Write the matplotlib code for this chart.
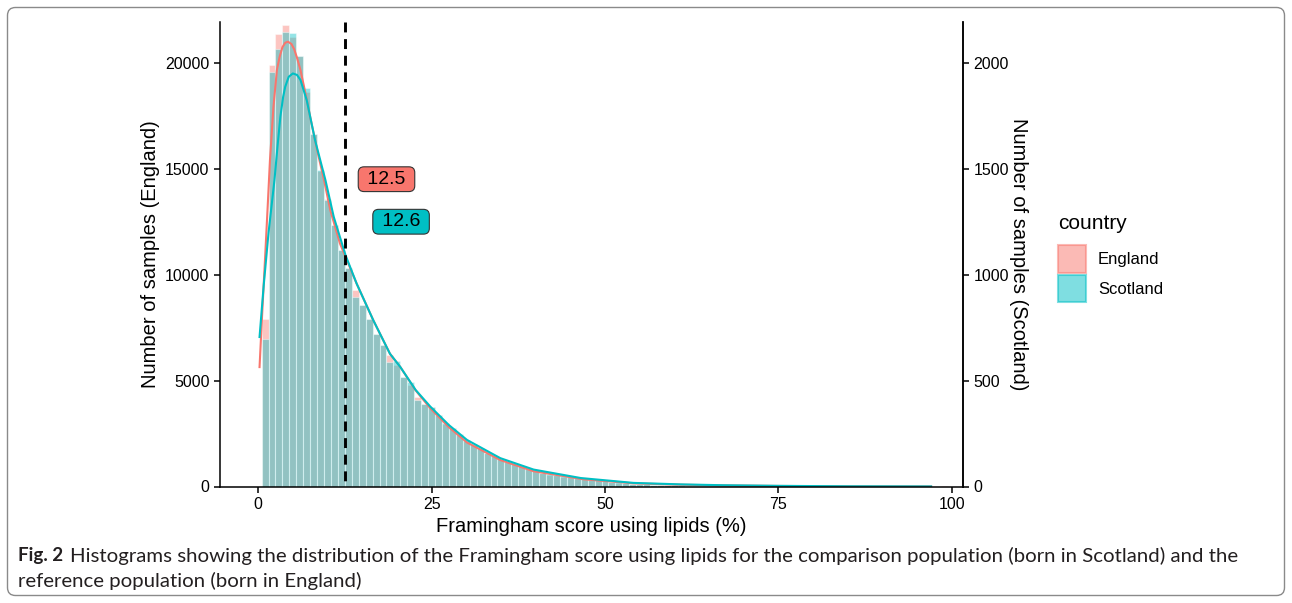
import matplotlib
matplotlib.use("Agg")
import numpy as np
import matplotlib.pyplot as plt
from matplotlib.patches import Patch, FancyBboxPatch

# histogram bins (centre, %), binwidth 1
score_bins = list(range(1, 100))

england_counts = [7930, 19905, 21370, 21800, 21240, 20340, 18640, 16640, 14910, 13600,
                  12340, 11160, 10300, 9300, 8560, 7930, 7190, 6670, 6190, 5720,
                  5170, 4800, 4250, 3880, 3750, 3360, 2960, 2750, 2450, 2170,
                  2000, 1800, 1580, 1420, 1290, 1170, 1040, 950, 840, 760,
                  650, 560, 520, 470, 430, 400, 360, 330, 290, 250,
                  210, 180, 150, 130, 110, 95, 80, 70, 60, 50,
                  45, 40, 35, 30, 26, 22, 19, 16, 14, 12,
                  10, 9, 8, 7, 6, 5, 5, 4, 4, 3,
                  3, 3, 2, 2, 2, 2, 2, 1, 1, 1,
                  1, 1, 1, 1, 1, 1, 0, 0, 1]

scotland_counts = [698, 1959, 2065, 2148, 2143, 2034, 1880, 1664, 1494, 1352,
                   1234, 1116, 1030, 895, 856, 793, 719, 667, 590, 592,
                   517, 495, 410, 388, 375, 336, 301, 275, 248, 219,
                   196, 182, 160, 143, 131, 118, 106, 96, 85, 77,
                   64, 57, 52, 48, 44, 41, 37, 34, 30, 26,
                   22, 19, 16, 14, 12, 10, 9, 8, 7, 6,
                   5, 4, 4, 3, 3, 2, 2, 2, 2, 1,
                   1, 1, 1, 1, 1, 1, 0, 1, 0, 0,
                   1, 0, 0, 0, 1, 0, 0, 0, 0, 0,
                   0, 0, 0, 0, 0, 0, 0, 0, 0]

# density curves (count scale)
eng_curve_x = [0.2, 0.6, 1.0, 1.4, 1.7, 2.2, 2.7, 3.1, 3.5, 3.9, 4.3, 4.8, 5.2, 5.6, 6.1,
               6.8, 7.5, 8.5, 9.5, 10.4, 11.8, 12.5, 14.2, 16.6, 19.0, 20.5, 22.7, 24.8,
               27.5, 30.1, 34.9, 39.7, 46.9, 54.1, 60.9, 67, 75.3, 85, 97]
eng_curve_y = [5640, 8300, 10800, 13400, 15400, 17900, 19670, 20300, 20750, 20960, 21010,
               20900, 20650, 20250, 19670, 18600, 17460, 15890, 14470, 13050, 11470, 10920,
               9580, 7850, 6270, 5640, 4540, 3700, 2800, 2080, 1250, 720, 340, 150, 85, 50,
               25, 10, 3]
sco_curve_x = [0.2, 0.8, 1.5, 2.35, 2.8, 3.2, 3.6, 3.9, 4.4, 5.0, 5.6, 6.1, 7.0, 8.2, 9.7,
               10.9, 12.6, 14.2, 16.6, 19.0, 20.5, 22.7, 24.8, 27.5, 30.1, 34.9, 39.7,
               46.5, 54.1, 60.9, 67, 75.3, 85, 97]
sco_curve_y = [706, 950, 1200, 1447, 1610, 1746, 1840, 1888, 1935, 1951, 1944, 1920, 1825,
               1636, 1447, 1273, 1092, 958, 785, 627, 564, 456, 378, 290, 220, 134, 80, 40,
               17, 10, 6, 3, 1, 0.3]

mean_england = 12.5
mean_scotland = 12.6
scale = 10  # scotland counts are drawn x10 on the left axis

red = "#F8766D"
teal = "#00BFC4"
alpha = 0.42

plt.rcParams["font.family"] = ["Liberation Sans", "DejaVu Sans"]

fig = plt.figure(figsize=(12.92, 6.03), dpi=100)
ax = fig.add_axes([220 / 1292, 1 - 486.5 / 603, 743 / 1292, 464.5 / 603])

ax.bar(score_bins, england_counts, width=1, color=red, alpha=alpha,
       edgecolor="white", linewidth=0.8)
ax.bar(score_bins, np.array(scotland_counts) * scale, width=1, color=teal, alpha=alpha,
       edgecolor="white", linewidth=0.8)
ax.plot(eng_curve_x, eng_curve_y, color=red, lw=1.5)
ax.plot(sco_curve_x, np.array(sco_curve_y) * scale, color=teal, lw=1.5)
# drawn top -> bottom so the dash pattern starts at the top
ax.axvline(mean_england, ymin=1, ymax=0, color="black", lw=2.1, dashes=(3.4, 2.3))

box = "round,pad=0.2,rounding_size=0.3"
ax.text(18.5, 14515, " %.1f " % mean_england, ha="center", va="center", fontsize=14,
        bbox=dict(boxstyle=box, fc=red, ec="#333333", lw=0.8))
ax.text(20.6, 12506, " %.1f " % mean_scotland, ha="center", va="center", fontsize=14,
        bbox=dict(boxstyle=box, fc=teal, ec="#333333", lw=0.8))

ax.set_xlim(-5.5, 101.6)
ax.set_ylim(0, 21940)
ax.set_xticks([0, 25, 50, 75, 100])
ax.set_yticks([0, 5000, 10000, 15000, 20000])
ax.spines["top"].set_visible(False)
for s in ["left", "bottom", "right"]:
    ax.spines[s].set_linewidth(1.1)
ax.tick_params(labelsize=11.5, length=4, width=1.1, colors="black")
ax.set_xlabel("Framingham score using lipids (%)", fontsize=14.5, labelpad=4)
ax.set_ylabel("Number of samples (England)", fontsize=14.5, labelpad=4)

sec = ax.secondary_yaxis("right", functions=(lambda y: y / scale, lambda y: y * scale))
sec.set_yticks([0, 500, 1000, 1500, 2000])
sec.tick_params(labelsize=11.5, length=4, width=1.1)
sec.spines["right"].set_linewidth(1.1)
sec.set_ylabel("Number of samples (Scotland)", fontsize=14.5, rotation=270, labelpad=14)

handles = [Patch(facecolor=red, alpha=0.5, edgecolor=red, lw=1.5, label="England"),
           Patch(facecolor=teal, alpha=0.5, edgecolor=teal, lw=1.5, label="Scotland")]
leg = fig.legend(handles=handles, title="country", loc="upper left",
                 bbox_to_anchor=(1043 / 1292, 1 - 199 / 603), frameon=False,
                 fontsize=12, title_fontsize=15, handlelength=1.65, handleheight=2.15,
                 handletextpad=0.75, labelspacing=0.12)
leg._legend_box.align = "left"
leg._legend_box.sep = 9
for h in leg.legend_handles:
    h.set_edgecolor(h.get_facecolor()[:3] + (1,))

# caption
cap_color = "#231f20"
fig.text(18 / 1292, 1 - 556 / 603, "Fig. 2", fontsize=13.5, fontweight="bold",
         family="Lato", va="center", color=cap_color)
fig.text(70 / 1292, 1 - 556 / 603,
         "Histograms showing the distribution of the Framingham score using lipids for the comparison population (born in Scotland) and the",
         fontsize=14.7, family="Lato", va="center", color=cap_color)
fig.text(18 / 1292, 1 - 581 / 603, "reference population (born in England)",
         fontsize=14.7, family="Lato", va="center", color=cap_color)

border = FancyBboxPatch((0.075, 0.075), 12.77, 5.88, boxstyle="round,pad=0,rounding_size=0.08",
                        transform=fig.dpi_scale_trans, fc="none", ec="#8a8a8a", lw=1)
fig.patches.append(border)

fig.savefig("out.png", dpi=100)
